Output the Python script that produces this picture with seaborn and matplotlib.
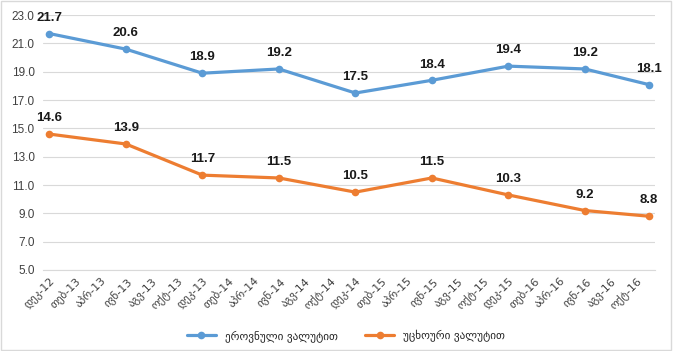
import pandas as pd
import matplotlib.pyplot as plt
import seaborn as sns
from matplotlib.patches import Rectangle

# data
dates = ['2012-12', '2013-06', '2013-12', '2014-06', '2014-12',
         '2015-06', '2015-12', '2016-06', '2016-11']
national = [21.7, 20.6, 18.9, 19.2, 17.5, 18.4, 19.4, 19.2, 18.1]
foreign = [14.6, 13.9, 11.7, 11.5, 10.5, 11.5, 10.3, 9.2, 8.8]
series_names = ['ეროვნული ვალუტით', 'უცხოური ვალუტით']
month_abbr = ['დეკ', 'თებ', 'აპრ', 'ივნ', 'აგვ', 'ოქტ']
tick_labels = [f'{month_abbr[i % 6]}-{12 + (i + 5) // 6}' for i in range(24)]

start = pd.Period('2012-12', freq='M')
x = [(pd.Period(d, freq='M') - start).n for d in dates]

df = pd.concat([
    pd.DataFrame({'x': x, 'value': national, 'series': series_names[0]}),
    pd.DataFrame({'x': x, 'value': foreign, 'series': series_names[1]}),
])

sns.set_style('white')
plt.rcParams['font.family'] = ['Liberation Sans', 'DejaVu Sans']

fig = plt.figure(figsize=(6.74, 3.51), dpi=100)
ax = fig.add_axes([0.0638, 0.2308, 0.908, 0.726])

colors = ['#5B9BD5', '#ED7D31']
sns.lineplot(data=df, x='x', y='value', hue='series', palette=colors,
             marker='o', markersize=5.5, markeredgewidth=0, linewidth=2.3,
             ax=ax, legend=True)

for vals in (national, foreign):
    for xi, v in zip(x, vals):
        ax.annotate(f'{v:.1f}', (xi, v), xytext=(0, 7), textcoords='offset points',
                    ha='center', va='bottom', fontsize=9.5, fontweight='bold',
                    color='#1a1a1a')

ax.set_xlim(-0.5, 47.5)
ax.set_ylim(5, 23)
ax.set_yticks([5 + 2 * i for i in range(10)])
ax.set_yticklabels([f'{5 + 2 * i:.1f}' for i in range(10)], fontsize=8.5, color='#404040')
ax.set_xticks([i * 2 for i in range(24)])
ax.set_xticklabels(tick_labels, rotation=45, ha='right', rotation_mode='anchor',
                   fontsize=8, color='#404040', family=['DejaVu Sans'])
ax.set_xticks([-0.5 + 2 * i for i in range(25)], minor=True)
ax.tick_params(axis='x', which='major', length=0, pad=4)
ax.tick_params(axis='x', which='minor', length=5, color='#D9D9D9', width=0.8)
ax.tick_params(axis='y', length=0, pad=6)
ax.grid(axis='y', color='#D9D9D9', linewidth=0.8)
ax.set_axisbelow(True)
for s in ['top', 'right', 'left']:
    ax.spines[s].set_visible(False)
ax.spines['bottom'].set_color('#D9D9D9')
ax.set_xlabel('')
ax.set_ylabel('')

handles, labels = ax.get_legend_handles_labels()
ax.legend(handles, labels, loc='center', bbox_to_anchor=(0.495, -0.258), ncol=2,
          frameon=False, handlelength=2.6, columnspacing=2.5,
          prop={'family': ['DejaVu Sans'], 'size': 8})

fig.add_artist(Rectangle((0.002, 0.003), 0.993, 0.994, transform=fig.transFigure,
                         fill=False, edgecolor='#D9D9D9', linewidth=1))

fig.savefig('out.png', dpi=100)
